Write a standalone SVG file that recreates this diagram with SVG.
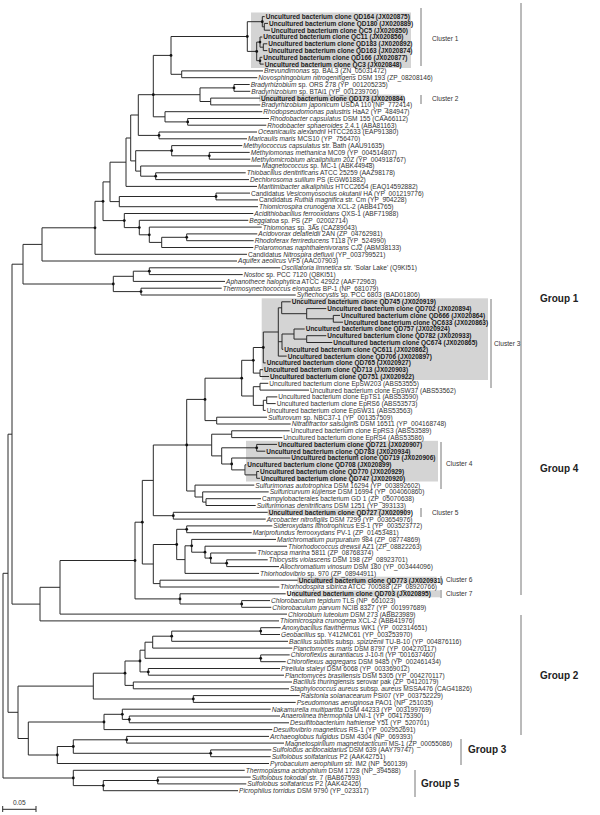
<svg xmlns="http://www.w3.org/2000/svg" width="600" height="815" viewBox="0 0 600 815">
<style>
.t{font-family:"Liberation Sans",Arial,sans-serif;font-size:6.6px;fill:#333}
.b{font-weight:bold;font-size:6.5px;fill:#1a1a1a}
.i{font-style:italic}
.br{fill:none;stroke:#2a2a2a;stroke-width:1}
.box{fill:#d4d4d4}
.bar{stroke:#777;stroke-width:1}
.g{font-family:"Liberation Sans",Arial,sans-serif;font-size:10px;font-weight:bold;fill:#222}
</style>
<rect width="600" height="815" fill="#fff"/>
<g id="boxes">
<rect class="box" x="251" y="12.5" width="160" height="55.5"/>
<rect class="box" x="259" y="94.6" width="144.5" height="7"/>
<rect class="box" x="261.7" y="298.3" width="226.3" height="81.7"/>
<rect class="box" x="246" y="440.8" width="192" height="40.7"/>
<rect class="box" x="267.7" y="508.8" width="139" height="7"/>
<rect class="box" x="297.3" y="576.7" width="139.4" height="7"/>
<rect class="box" x="292.7" y="590.3" width="147.3" height="7"/>
</g>
<g id="connectors" class="br">
<path d="M264.3 23.4V30.2M264.3 23.4H268M264.3 30.2H270M262.3 16.6V26.8M262.3 16.6H264.7M262.3 26.8H264.3M263.3 43.8V50.6M263.3 43.8H267.3M263.3 50.6H267.3M260 37V47.2M260 37H262.3M260 47.2H263.3M260 57.3V64.1M260 57.3H262.3M260 64.1H263.7M256.7 42.1V60.7M256.7 42.1H260M256.7 60.7H260M247.3 21.7V51.4M247.3 21.7H262.3M247.3 51.4H256.7M181.7 70.9V77.7M181.7 70.9H263M181.7 77.7H257.3M171 36.5V74.3M171 36.5H247.3M171 74.3H181.7M234 84.5V91.3M234 84.5H249.7M234 91.3H250.3M210.7 98.1V104.9M210.7 98.1H260M210.7 104.9H260.3M200 87.9V101.5M200 87.9H234M200 101.5H210.7M187.7 118.5V125.2M187.7 118.5H269M187.7 125.2H266.3M165 111.7V121.9M165 111.7H262.3M165 121.9H187.7M153.3 55.4V116.8M153.3 55.4H171M153.3 94.7H200M153.3 116.8H165M159 132V138.8M159 132H257M159 138.8H247M138.3 94.7V135.4M138.3 94.7H153.3M138.3 135.4H159M209.3 152.4V159.2M209.3 152.4H249.7M209.3 159.2H250.3M171.7 145.6V155.8M171.7 145.6H242.3M171.7 155.8H209.3M155.7 172.8V179.6M155.7 172.8H245.7M155.7 179.6H249M140.7 166V176.2M140.7 166H261M140.7 176.2H155.7M135.7 150.7V171.1M135.7 150.7H171.7M135.7 171.1H140.7M130.7 115V160.9M130.7 115H138.3M130.7 160.9H135.7M126 138V186.4M126 138H130.7M126 186.4H257M216 193.1V199.9M216 193.1H250M216 199.9H258M119.3 196.5V206.7M119.3 196.5H216M119.3 206.7H258M110 162.2V201.6M110 162.2H126M110 201.6H119.3M186.7 233.9V240.7M186.7 233.9H257.3M186.7 240.7H253.7M161.7 237.3V247.5M161.7 237.3H186.7M161.7 247.5H253.3M149.3 227.1V242.4M149.3 227.1H261.7M149.3 242.4H161.7M139.3 220.3V234.8M139.3 220.3H248.3M139.3 234.8H149.3M124.3 213.5V227.6M124.3 213.5H253.3M124.3 227.6H139.3M103 181.9V220.6M103 181.9H110M103 220.6H124.3M95 201.3V254.3M95 201.3H103M95 254.3H247M42 227.8V261M42 227.8H95M42 261H237M149.3 267.8V274.6M149.3 267.8H280.3M149.3 274.6H242.7M133.3 271.2V281.4M133.3 271.2H149.3M133.3 281.4H225M141 288.2V295M141 288.2H221.7M141 295H295.7M113.3 276.3V291.6M113.3 276.3H133.3M113.3 291.6H141M23 244.4V284M23 244.4H42M23 284H113.3"/>
<path d="M333.3 315.4V322.2M333.3 315.4H340M333.3 322.2H343M306.7 308.6V318.8M306.7 308.6H326.3M306.7 318.8H333.3M281.7 301.8V313.7M281.7 301.8H290.7M281.7 313.7H306.7M306.7 335.7V342.5M306.7 335.7H326.3M306.7 342.5H332.3M294 329V339.1M294 329H304.7M294 339.1H306.7M282 334V349.3M282 334H294M282 349.3H283.3M278.3 307.8V356.1M278.3 307.8H281.7M278.3 341.7H282M278.3 356.1H286.7M263.3 332V362.9M263.3 332H278.3M263.3 362.9H265.7M260 369.7V376.5M260 369.7H263M260 376.5H269M253.3 347.5V373.1M253.3 347.5H263.3M253.3 373.1H260M260 383.3V390.1M260 383.3H268.3M260 390.1H309M266.7 396.9V403.6M266.7 396.9H277.3M266.7 403.6H275.7M263.3 400.3V410.4M263.3 400.3H266.7M263.3 410.4H265.7M253.3 386.7V405.4M253.3 386.7H260M253.3 405.4H263.3M241.7 360.3V396M241.7 360.3H253.3M241.7 396H253.3M216.7 417.2V424M216.7 417.2H267M216.7 424H290.7M205 378.2V420.6M205 378.2H241.7M205 420.6H216.7M231.7 430.8V437.6M231.7 430.8H289.7M231.7 437.6H282.3M256.7 444.4V451.2M256.7 444.4H277M256.7 451.2H265.3M256.7 471.5V478.3M256.7 471.5H259M256.7 478.3H260M245 464.8V474.9M245 464.8H246.3M245 474.9H256.7M231.7 458V469.9M231.7 458H290.3M231.7 469.9H245M221.7 447.8V464M221.7 447.8H256.7M221.7 464H231.7M211.7 434.2V455.9M211.7 434.2H231.7M211.7 455.9H221.7M206 498.7V505.5M206 498.7H261M206 505.5H255.7M202.7 491.9V502.1M202.7 491.9H268.7M202.7 502.1H206M195 485.1V497M195 485.1H254.3M195 497H202.7M186.7 399.4V491M186.7 399.4H205M186.7 445H211.7M186.7 491H195M173.3 512.3V519.1M173.3 512.3H267.7M173.3 519.1H265.7M153.3 445V515.7M153.3 445H186.7M153.3 515.7H173.3M186.7 525.9V532.7M186.7 525.9H272.3M186.7 532.7H251.7M226.7 559.8V566.6M226.7 559.8H267.7M226.7 566.6H279M210.7 553V563.2M210.7 553H256.3M210.7 563.2H226.7M205 546.2V558.1M205 546.2H287M205 558.1H210.7M191.7 539.4V552.2M191.7 539.4H276M191.7 552.2H205M185 545.8V573.4M185 545.8H191.7M185 573.4H259M176.7 529.3V559.6M176.7 529.3H186.7M176.7 559.6H185M160 580.2V587M160 580.2H297.7M160 587H279.3M153.3 544.5V583.6M153.3 544.5H176.7M153.3 583.6H160M142.3 480.4V564M142.3 480.4H153.3M142.3 564H153.3M241.7 600.6V607.3M241.7 600.6H270M241.7 607.3H271.3M180 593.8V604M180 593.8H285.7M180 604H241.7M135 522.2V598.9M135 522.2H142.3M135 598.9H180"/>
<path d="M260.7 627.7V634.5M260.7 627.7H280.7M260.7 634.5H280M171.7 631.1V641.3M171.7 631.1H260.7M171.7 641.3H288M152.7 636.2V648.1M152.7 636.2H171.7M152.7 648.1H292.3M260.7 654.9V661.7M260.7 654.9H289.7M260.7 661.7H285.7M145 642.2V658.3M145 642.2H152.7M145 658.3H260.7M148.3 668.5V675.2M148.3 668.5H280M148.3 675.2H284M140 650.2V671.9M140 650.2H145M140 671.9H148.3M133.3 682V688.8M133.3 682H292M133.3 688.8H289M125 661V685.4M125 661H140M125 685.4H133.3M193.3 695.6V702.4M193.3 695.6H299.7M193.3 702.4H295.7M93.3 673.2V699M93.3 673.2H125M93.3 699H193.3M129.3 716V722.8M129.3 716H280M129.3 722.8H289M122.3 709.2V719.4M122.3 709.2H270.7M122.3 719.4H129.3M104 714.3V729.6M104 714.3H122.3M104 729.6H272.3M126.7 736.4V743.1M126.7 736.4H269M126.7 743.1H284M210.7 749.9V756.7M210.7 749.9H271.3M210.7 756.7H270.7M73.3 739.8V753.3M73.3 739.8H126.7M73.3 753.3H210.7M57.3 746.5V763.5M57.3 746.5H73.3M57.3 763.5H269M28.3 722V755M28.3 722H104M28.3 755H57.3M157.7 777.1V783.9M157.7 777.1H250.7M157.7 783.9H246.3M103.3 780.5V790.7M103.3 780.5H157.7M103.3 790.7H238M73.3 770.3V785.6M73.3 770.3H244.7M73.3 785.6H103.3"/>
<path d="M60 560.5V614.1M60 560.5H135M60 614.1H287M40 587.3V620.9M40 587.3H60M40 620.9H279M12 264.2V604.1M12 264.2H23M12 604.1H40M18 686.1V738.5M18 686.1H93.3M18 738.5H28.3M8 434.2V712.3M8 434.2H12M8 712.3H18M3 573.3V778M3 573.3H8M3 778H73.3"/>
</g>
<g id="dots" fill="#111">
<circle cx="262.3" cy="21.7" r="1.4"/><circle cx="247.3" cy="36.5" r="1.4"/><circle cx="256.7" cy="51.4" r="1.4"/><circle cx="260" cy="42.1" r="1.3"/><circle cx="260" cy="60.7" r="1.3"/><circle cx="171" cy="55.4" r="1.4"/><circle cx="234" cy="87.9" r="1.4"/><circle cx="153.3" cy="94.7" r="1.4"/><circle cx="187.7" cy="121.9" r="1.4"/><circle cx="159" cy="135.4" r="1.4"/><circle cx="171.7" cy="150.7" r="1.4"/><circle cx="209.3" cy="155.8" r="1.4"/><circle cx="155.7" cy="176.2" r="1.4"/><circle cx="216" cy="196.5" r="1.4"/><circle cx="103" cy="201.3" r="1.4"/><circle cx="95" cy="227.8" r="1.4"/><circle cx="124.3" cy="220.6" r="1.4"/><circle cx="139.3" cy="227.6" r="1.4"/><circle cx="149.3" cy="234.8" r="1.4"/><circle cx="186.7" cy="237.3" r="1.4"/><circle cx="149.3" cy="271.2" r="1.4"/><circle cx="113.3" cy="284" r="1.4"/><circle cx="141" cy="291.6" r="1.4"/><circle cx="263.3" cy="347.5" r="1.4"/><circle cx="253.3" cy="360.3" r="1.4"/><circle cx="241.7" cy="378.2" r="1.4"/><circle cx="205" cy="399.4" r="1.4"/><circle cx="186.7" cy="445" r="1.4"/><circle cx="256.7" cy="447.8" r="1.4"/><circle cx="231.7" cy="464" r="1.4"/><circle cx="173.3" cy="515.7" r="1.4"/><circle cx="142.3" cy="522.2" r="1.4"/><circle cx="226.7" cy="563.2" r="1.4"/><circle cx="210.7" cy="558.1" r="1.4"/><circle cx="205" cy="552.2" r="1.4"/><circle cx="191.7" cy="545.8" r="1.4"/><circle cx="186.7" cy="529.3" r="1.4"/><circle cx="176.7" cy="544.5" r="1.4"/><circle cx="135" cy="560.5" r="1.4"/><circle cx="180" cy="598.9" r="1.4"/><circle cx="241.7" cy="604" r="1.4"/><circle cx="260.7" cy="631.1" r="1.4"/><circle cx="171.7" cy="636.2" r="1.4"/><circle cx="260.7" cy="658.3" r="1.4"/><circle cx="148.3" cy="671.9" r="1.4"/><circle cx="140" cy="661" r="1.4"/><circle cx="125" cy="673.2" r="1.4"/><circle cx="193.3" cy="699" r="1.4"/><circle cx="129.3" cy="719.4" r="1.4"/><circle cx="122.3" cy="714.3" r="1.4"/><circle cx="104" cy="722" r="1.4"/><circle cx="126.7" cy="739.8" r="1.4"/><circle cx="210.7" cy="753.3" r="1.4"/><circle cx="73.3" cy="746.5" r="1.4"/><circle cx="57.3" cy="755" r="1.4"/><circle cx="157.7" cy="780.5" r="1.4"/><circle cx="103.3" cy="785.6" r="1.4"/><circle cx="73.3" cy="778" r="1.4"/>
</g>
<g class="t">
<g id="n1"><text class="b" x="265.7" y="19">Uncultured bacterium clone QD164 (JX020875)</text></g>
<g id="n2"><text class="b" x="269" y="25.8">Uncultured bacterium clone QD180 (JX020889)</text></g>
<g id="n3"><text class="b" x="271" y="32.6">Uncultured bacterium clone QC5 (JX020850)</text></g>
<g id="n4"><text class="b" x="263.3" y="39.4">Uncultured bacterium clone QC11 (JX020856)</text></g>
<g id="n5"><text class="b" x="268.3" y="46.2">Uncultured bacterium clone QD183 (JX020892)</text></g>
<g id="n6"><text class="b" x="268.3" y="53">Uncultured bacterium clone QD163 (JX020874)</text></g>
<g id="n7"><text class="b" x="263.3" y="59.7">Uncultured bacterium clone QD166 (JX020877)</text></g>
<g id="n8"><text class="b" x="264.7" y="66.5">Uncultured bacterium clone QC3 (JX020848)</text></g>
<g id="n9"><text x="264" y="73.3"><tspan class="i">Brevundimonas</tspan> sp. BAL3 (ZN_05031472)</text></g>
<g id="n10"><text x="258.3" y="80.1"><tspan class="i">Novosphingobium nitrogenifigens</tspan> DSM 193 (ZP_08208146)</text></g>
<g id="n11"><text x="250.7" y="86.9"><tspan class="i">Bradyrhizobium</tspan> sp. ORS 278 (YP_001205235)</text></g>
<g id="n12"><text x="251.3" y="93.7"><tspan class="i">Bradyrhizobium</tspan> sp. BTAi1 (YP_001239706)</text></g>
<g id="n13"><text class="b" x="261" y="100.5">Uncultured bacterium clone QD173 (JX020884)</text></g>
<g id="n14"><text x="261.3" y="107.3"><tspan class="i">Bradyrhizobium japonicum</tspan> USDA 110 (NP_772414)</text></g>
<g id="n15"><text x="263.3" y="114.1"><tspan class="i">Rhodopseudomonas palustris</tspan> HaA2 (YP_484947)</text></g>
<g id="n16"><text x="270" y="120.9"><tspan class="i">Rhodobacter capsulatus</tspan> DSM 155 (CAA66112)</text></g>
<g id="n17"><text x="267.3" y="127.6"><tspan class="i">Rhodobacter sphaeroides</tspan> 2.4.1 (ABA81163)</text></g>
<g id="n18"><text x="258" y="134.4"><tspan class="i">Oceanicaulis alexandrii</tspan> HTCC2633 (EAP91380)</text></g>
<g id="n19"><text x="248" y="141.2"><tspan class="i">Maricaulis maris</tspan> MCS10 (YP_756470)</text></g>
<g id="n20"><text x="243.3" y="148"><tspan class="i">Methylococcus capsulatus</tspan> str. Bath (AAU91635)</text></g>
<g id="n21"><text x="250.7" y="154.8"><tspan class="i">Methylomonas methanica</tspan> MC09 (YP_004514807)</text></g>
<g id="n22"><text x="251.3" y="161.6"><tspan class="i">Methylomicrobium alcaliphilum</tspan> 20Z (YP_004918767)</text></g>
<g id="n23"><text x="262" y="168.4"><tspan class="i">Magnetococcus</tspan> sp. MC-1 (ABK44948)</text></g>
<g id="n24"><text x="246.7" y="175.2"><tspan class="i">Thiobacillus denitrificans</tspan> ATCC 25259 (AAZ98178)</text></g>
<g id="n25"><text x="250" y="182"><tspan class="i">Dechlorosoma suillum</tspan> PS (EGW61882)</text></g>
<g id="n26"><text x="258" y="188.8"><tspan class="i">Maritimibacter alkaliphilus</tspan> HTCC2654 (EAQ14592882)</text></g>
<g id="n27"><text x="251" y="195.5">Candidatus <tspan class="i">Vesicomyosocius okutanii</tspan> HA (YP_001219776)</text></g>
<g id="n28"><text x="259" y="202.3">Candidatus <tspan class="i">Ruthia magnifica</tspan> str. Cm (YP_904228)</text></g>
<g id="n29"><text x="259" y="209.1"><tspan class="i">Thiomicrospira crunogena</tspan> XCL-2 (ABB41765)</text></g>
<g id="n30"><text x="254.3" y="215.9"><tspan class="i">Acidithiobacillus ferrooxidans</tspan> QXS-1 (ABF71988)</text></g>
<g id="n31"><text x="249.3" y="222.7"><tspan class="i">Beggiatoa</tspan> sp. PS (ZP_02002714)</text></g>
<g id="n32"><text x="262.7" y="229.5"><tspan class="i">Thiomonas</tspan> sp. 3As (CAZ89043)</text></g>
<g id="n33"><text x="258.3" y="236.3"><tspan class="i">Acidovorax delafieldii</tspan> 2AN (ZP_04762981)</text></g>
<g id="n34"><text x="254.7" y="243.1"><tspan class="i">Rhodoferax ferrireducens</tspan> T118 (YP_524990)</text></g>
<g id="n35"><text x="254.3" y="249.9"><tspan class="i">Polaromonas naphthalenivorans</tspan> CJ2 (ABM38133)</text></g>
<g id="n36"><text x="248" y="256.7">Candidatus <tspan class="i">Nitrospira defluvii</tspan> (YP_003799521)</text></g>
<g id="n37"><text x="238" y="263.4"><tspan class="i">Aquifex aeolicus</tspan> VF5 (AAC07903)</text></g>
<g id="n38"><text x="281.3" y="270.2"><tspan class="i">Oscillatoria limnetica</tspan> str. 'Solar Lake' (Q9KI51)</text></g>
<g id="n39"><text x="243.7" y="277"><tspan class="i">Nostoc</tspan> sp. PCC 7120 (Q8KI51)</text></g>
<g id="n40"><text x="226" y="283.8"><tspan class="i">Aphanothece halophytica</tspan> ATCC 42922 (AAF72963)</text></g>
<g id="n41"><text x="222.7" y="290.6"><tspan class="i">Thermosynechococcus elongatus</tspan> BP-1 (NP_681079)</text></g>
<g id="n42"><text x="296.7" y="297.4"><tspan class="i">Synechocystis</tspan> sp. PCC 6803 (BAD01806)</text></g>
<g id="n43"><text class="b" x="291.7" y="304.2">Uncultured bacterium clone QD745 (JX020919)</text></g>
<g id="n44"><text class="b" x="327.3" y="311">Uncultured bacterium clone QD702 (JX020894)</text></g>
<g id="n45"><text class="b" x="341" y="317.8">Uncultured bacterium clone QD666 (JX020864)</text></g>
<g id="n46"><text class="b" x="344" y="324.6">Uncultured bacterium clone QC633 (JX020863)</text></g>
<g id="n47"><text class="b" x="305.7" y="331.4">Uncultured bacterium clone QD757 (JX020924)</text></g>
<g id="n48"><text class="b" x="327.3" y="338.1">Uncultured bacterium clone QD782 (JX020933)</text></g>
<g id="n49"><text class="b" x="333.3" y="344.9">Uncultured bacterium clone QC674 (JX020865)</text></g>
<g id="n50"><text class="b" x="284.3" y="351.7">Uncultured bacterium clone QC611 (JX020862)</text></g>
<g id="n51"><text class="b" x="287.7" y="358.5">Uncultured bacterium clone QD706 (JX020897)</text></g>
<g id="n52"><text class="b" x="266.7" y="365.3">Uncultured bacterium clone QD765 (JX020927)</text></g>
<g id="n53"><text class="b" x="264" y="372.1">Uncultured bacterium clone QD713 (JX020903)</text></g>
<g id="n54"><text class="b" x="270" y="378.9">Uncultured bacterium clone QD751 (JX020922)</text></g>
<g id="n55"><text x="269.3" y="385.7">Uncultured bacterium clone EpSW203 (ABS53555)</text></g>
<g id="n56"><text x="310" y="392.5">Uncultured bacterium clone EpSW37 (ABS53562)</text></g>
<g id="n57"><text x="278.3" y="399.3">Uncultured bacterium clone EpTS1 (ABS53590)</text></g>
<g id="n58"><text x="276.7" y="406">Uncultured bacterium clone EpRS6 (ABS53573)</text></g>
<g id="n59"><text x="266.7" y="412.8">Uncultured bacterium clone EpSW31 (ABS53563)</text></g>
<g id="n60"><text x="268" y="419.6"><tspan class="i">Sulfurovum</tspan> sp. NBC37-1 (YP_001357509)</text></g>
<g id="n61"><text x="291.7" y="426.4"><tspan class="i">Nitratifractor salsuginis</tspan> DSM 16511 (YP_004168748)</text></g>
<g id="n62"><text x="290.7" y="433.2">Uncultured bacterium clone EpRS3 (ABS53589)</text></g>
<g id="n63"><text x="283.3" y="440">Uncultured bacterium clone EpRS4 (ABS53586)</text></g>
<g id="n64"><text class="b" x="278" y="446.8">Uncultured bacterium clone QD721 (JX020907)</text></g>
<g id="n65"><text class="b" x="266.3" y="453.6">Uncultured bacterium clone QD783 (JX020934)</text></g>
<g id="n66"><text class="b" x="291.3" y="460.4">Uncultured bacterium clone QD719 (JX020906)</text></g>
<g id="n67"><text class="b" x="247.3" y="467.2">Uncultured bacterium clone QD708 (JX020899)</text></g>
<g id="n68"><text class="b" x="260" y="473.9">Uncultured bacterium clone QD770 (JX020929)</text></g>
<g id="n69"><text class="b" x="261" y="480.7">Uncultured bacterium clone QD747 (JX020920)</text></g>
<g id="n70"><text x="255.3" y="487.5"><tspan class="i">Sulfurimonas autotrophica</tspan> DSM 16294 (YP_003892602)</text></g>
<g id="n71"><text x="269.7" y="494.3"><tspan class="i">Sulfuricurvum kujiense</tspan> DSM 16994 (YP_004060860)</text></g>
<g id="n72"><text x="262" y="501.1">Campylobacterales bacterium GD 1 (ZP_05070638)</text></g>
<g id="n73"><text x="256.7" y="507.9"><tspan class="i">Sulfurimonas denitrificans</tspan> DSM 1251 (YP_393133)</text></g>
<g id="n74"><text class="b" x="268.7" y="514.7">Uncultured bacterium clone QD727 (JX020909)</text></g>
<g id="n75"><text x="266.7" y="521.5"><tspan class="i">Arcobacter nitrofigilis</tspan> DSM 7299 (YP_003654976)</text></g>
<g id="n76"><text x="273.3" y="528.3"><tspan class="i">Sideroxydans lithotrophicus</tspan> ES-1 (YP_003523772)</text></g>
<g id="n77"><text x="252.7" y="535.1"><tspan class="i">Mariprofundus ferrooxydans</tspan> PV-1 (ZP_01453481)</text></g>
<g id="n78"><text x="277" y="541.8"><tspan class="i">Marichromatium purpuratum</tspan> 984 (ZP_08774869)</text></g>
<g id="n79"><text x="288" y="548.6"><tspan class="i">Thiorhodococcus drewsii</tspan> AZ1 (ZP_08822263)</text></g>
<g id="n80"><text x="257.3" y="555.4"><tspan class="i">Thiocapsa marina</tspan> 5811 (ZP_08768374)</text></g>
<g id="n81"><text x="268.7" y="562.2"><tspan class="i">Thiocystis violascens</tspan> DSM 198 (ZP_08923701)</text></g>
<g id="n82"><text x="280" y="569"><tspan class="i">Allochromatium vinosum</tspan> DSM 180 (YP_003444096)</text></g>
<g id="n83"><text x="260" y="575.8"><tspan class="i">Thiorhodovibrio</tspan> sp. 970 (ZP_08944911)</text></g>
<g id="n84"><text class="b" x="298.7" y="582.6">Uncultured bacterium clone QD773 (JX020931)</text></g>
<g id="n85"><text x="280.3" y="589.4"><tspan class="i">Thiorhodospira sibirica</tspan> ATCC 700588 (ZP_08920766)</text></g>
<g id="n86"><text class="b" x="286.7" y="596.2">Uncultured bacterium clone QD703 (JX020895)</text></g>
<g id="n87"><text x="271" y="603"><tspan class="i">Chlorobaculum tepidum</tspan> TLS (NP_661023)</text></g>
<g id="n88"><text x="272.3" y="609.7"><tspan class="i">Chlorobaculum parvum</tspan> NCIB 8327 (YP_001997689)</text></g>
<g id="n89"><text x="288" y="616.5"><tspan class="i">Chlorobium luteolum</tspan> DSM 273 (ABB23989)</text></g>
<g id="n90"><text x="280" y="623.3"><tspan class="i">Thiomicrospira crunogena</tspan> XCL-2 (ABB41976)</text></g>
<g id="n91"><text x="281.7" y="630.1"><tspan class="i">Anoxybacillus flavithermus</tspan> WK1 (YP_002314651)</text></g>
<g id="n92"><text x="281" y="636.9"><tspan class="i">Geobacillus</tspan> sp. Y412MC61 (YP_003253970)</text></g>
<g id="n93"><text x="289" y="643.7"><tspan class="i">Bacillus subtilis</tspan> subsp. <tspan class="i">spizizenii</tspan> TU-B-10 (YP_004876116)</text></g>
<g id="n94"><text x="293.3" y="650.5"><tspan class="i">Planctomyces maris</tspan> DSM 8797 (YP_004270117)</text></g>
<g id="n95"><text x="290.7" y="657.3"><tspan class="i">Chloroflexus aurantiacus</tspan> J-10-fl (YP_001637460)</text></g>
<g id="n96"><text x="286.7" y="664.1"><tspan class="i">Chloroflexus aggregans</tspan> DSM 9485 (YP_002461434)</text></g>
<g id="n97"><text x="281" y="670.9"><tspan class="i">Pirellula staleyi</tspan> DSM 6068 (YP_003369012)</text></g>
<g id="n98"><text x="285" y="677.6"><tspan class="i">Planctomyces brasiliensis</tspan> DSM 5305 (YP_004270117)</text></g>
<g id="n99"><text x="293" y="684.4"><tspan class="i">Bacillus thuringiensis</tspan> serovar pak (ZP_04120179)</text></g>
<g id="n100"><text x="290" y="691.2"><tspan class="i">Staphylococcus aureus</tspan> subsp. <tspan class="i">aureus</tspan> MSSA476 (CAG41826)</text></g>
<g id="n101"><text x="300.7" y="698"><tspan class="i">Ralstonia solanacearum</tspan> PSI07 (YP_003752229)</text></g>
<g id="n102"><text x="296.7" y="704.8"><tspan class="i">Pseudomonas aeruginosa</tspan> PAO1 (NP_251035)</text></g>
<g id="n103"><text x="271.7" y="711.6"><tspan class="i">Nakamurella multipartita</tspan> DSM 44233 (YP_003199769)</text></g>
<g id="n104"><text x="281" y="718.4"><tspan class="i">Anaerolinea thermophila</tspan> UNI-1 (YP_004175390)</text></g>
<g id="n105"><text x="290" y="725.2"><tspan class="i">Desulfitobacterium hafniense</tspan> Y51 (YP_520701)</text></g>
<g id="n106"><text x="273.3" y="732"><tspan class="i">Desulfovibrio magneticus</tspan> RS-1 (YP_002952691)</text></g>
<g id="n107"><text x="270" y="738.8"><tspan class="i">Archaeoglobus fulgidus</tspan> DSM 4304 (NP_069393)</text></g>
<g id="n108"><text x="285" y="745.5"><tspan class="i">Magnetospirillum magnetotacticum</tspan> MS-1 (ZP_00055086)</text></g>
<g id="n109"><text x="272.3" y="752.3"><tspan class="i">Sulfolobus acidocaldarius</tspan> DSM 639 (AAY79747)</text></g>
<g id="n110"><text x="271.7" y="759.1"><tspan class="i">Sulfolobus solfataricus</tspan> P2 (AAK42751)</text></g>
<g id="n111"><text x="270" y="765.9"><tspan class="i">Pyrobaculum aerophilum</tspan> str. IM2 (NP_560139)</text></g>
<g id="n112"><text x="245.7" y="772.7"><tspan class="i">Thermoplasma acidophilum</tspan> DSM 1728 (NP_394588)</text></g>
<g id="n113"><text x="251.7" y="779.5"><tspan class="i">Sulfolobus tokodaii</tspan> str. 7 (BAB67593)</text></g>
<g id="n114"><text x="247.3" y="786.3"><tspan class="i">Sulfolobus solfataricus</tspan> P2 (AAK42426)</text></g>
<g id="n115"><text x="239" y="793.1"><tspan class="i">Picrophilus torridus</tspan> DSM 9790 (YP_023317)</text></g>
</g>
<g id="clusters">
<path class="bar" d="M421 8V66M421 95V104M491 299V388M441 442V489M421 508V517M441 576V584M441 590V598M521 3V595M521 615V735M461 739V765M415 770V797"/>
<g class="t">
<text x="432" y="41">Cluster 1</text>
<text x="432" y="101">Cluster 2</text>
<text x="494" y="346">Cluster 3</text>
<text x="446" y="466">Cluster 4</text>
<text x="432" y="515">Cluster 5</text>
<text x="446" y="582">Cluster 6</text>
<text x="446" y="596">Cluster 7</text>
</g>
<text class="g" x="540" y="302">Group 1</text>
<text class="g" x="540" y="472">Group 4</text>
<text class="g" x="540" y="679">Group 2</text>
<text class="g" x="468" y="753">Group 3</text>
<text class="g" x="421" y="787">Group 5</text>
</g>
<g id="scale">
<path class="br" d="M2.7 809.3H36M2.7 806V812M36 806V812"/>
<text class="t" x="19.3" y="805" text-anchor="middle">0.05</text>
</g>
</svg>
